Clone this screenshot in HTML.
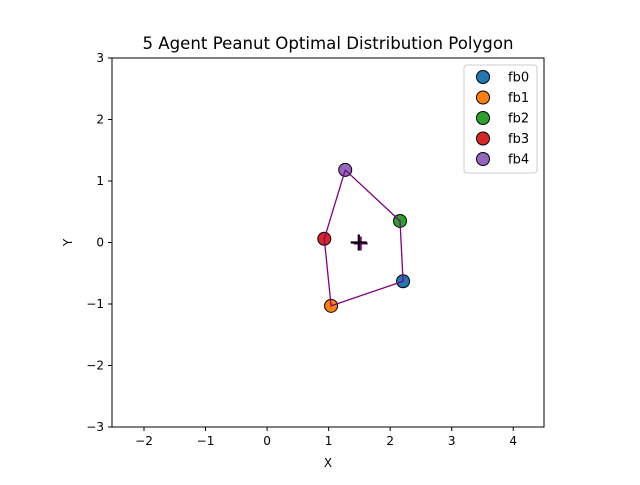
<!DOCTYPE html>
<html><head><meta charset="utf-8"><style>
body{margin:0;background:#fff;font-family:"Liberation Sans","DejaVu Sans",sans-serif;}
svg text{font-family:"DejaVu Sans","Liberation Sans",sans-serif;}
</style></head><body>
<svg id="chart" width="640" height="480" xmlns="http://www.w3.org/2000/svg">
<rect width="640" height="480" fill="#fff"/>
<text x="328" y="49" text-anchor="middle" font-size="16.6">5 Agent Peanut Optimal Distribution Polygon</text>
<g id="axes"></g>
<g id="marks"></g>
<g id="legend">
<rect x="464" y="65" width="73" height="108" rx="3" fill="#fff" stroke="#ccc"/>
</g>
</svg>
<script>
const labels=["fb0","fb1","fb2","fb3","fb4"];
const xs=[2.21,1.04,2.16,0.93,1.27];
const ys=[-0.63,-1.03,0.35,0.06,1.18];
const colors=["#1f77b4","#ff7f0e","#2ca02c","#d62728","#9467bd"];
const polyOrder=[4,2,0,1,3,4];
const centroid=[1.49,0.0];
const xTicks=[-2,-1,0,1,2,3,4];
const yTicks=[-3,-2,-1,0,1,2,3];
const L=112,R=544,T=58,B=427,xmin=-2.52,xmax=4.5,ymin=-3,ymax=3;
const sx=v=>L+(v-xmin)/(xmax-xmin)*(R-L);
const sy=v=>B-(v-ymin)/(ymax-ymin)*(B-T);
const NS="http://www.w3.org/2000/svg";
function mk(t,a,p){const e=document.createElementNS(NS,t);for(const k in a)e.setAttribute(k,a[k]);p.appendChild(e);return e;}
const ax=document.getElementById('axes'),mg=document.getElementById('marks'),lg=document.getElementById('legend');
xTicks.forEach(v=>{const x=sx(v);
const tk=mk('line',{x1:x,x2:x,y1:B,y2:B+4,stroke:'#000'},ax);


const t=mk('text',{x:x,y:B+18,'text-anchor':'middle','font-size':12},ax);t.textContent=v<0?'\u2212'+(-v):v;

});
yTicks.forEach(v=>{const y=sy(v);
const tk=mk('line',{x1:L-4,x2:L,y1:y,y2:y,stroke:'#000'},ax);


const t=mk('text',{x:L-8,y:y+4,'text-anchor':'end','font-size':12},ax);t.textContent=v<0?'\u2212'+(-v):v;

});
const fr=mk('rect',{x:L,y:T,width:R-L,height:B-T,fill:'none',stroke:'#000','stroke-width':1},ax);


const xl=mk('text',{x:(L+R)/2,y:467,'text-anchor':'middle','font-size':12},ax);xl.textContent='X';


const yl=mk('text',{x:72,y:(T+B)/2,'text-anchor':'middle','font-size':12,transform:`rotate(-90 72 ${(T+B)/2})`},ax);yl.textContent='Y';


labels.forEach((n,i)=>{const c=mk('circle',{cx:sx(xs[i]),cy:sy(ys[i]),r:6.5,fill:colors[i],stroke:'#000','stroke-width':1},mg);


const ly=77+i*20.5;
const lc=mk('circle',{cx:483,cy:ly,r:6.5,fill:colors[i],stroke:'#000'},lg);


const lt=mk('text',{x:508,y:ly+4.5,'font-size':13},lg);lt.textContent=n;

});
const pl=mk('polyline',{points:polyOrder.map(i=>sx(xs[i])+','+sy(ys[i])).join(' '),fill:'none',stroke:'#800080','stroke-width':1.3},mg);


const cx=sx(centroid[0]),cy=sy(centroid[1]);
const cp=mk('path',{d:`M${cx-7+2},${cy+1}h14M${cx+2},${cy-7+1}v14`,stroke:'#800080','stroke-width':2},mg);


const cb=mk('path',{d:`M${cx-8},${cy}h16M${cx},${cy-8}v16`,stroke:'#000','stroke-width':2.2},mg);


</script>
</body></html>
